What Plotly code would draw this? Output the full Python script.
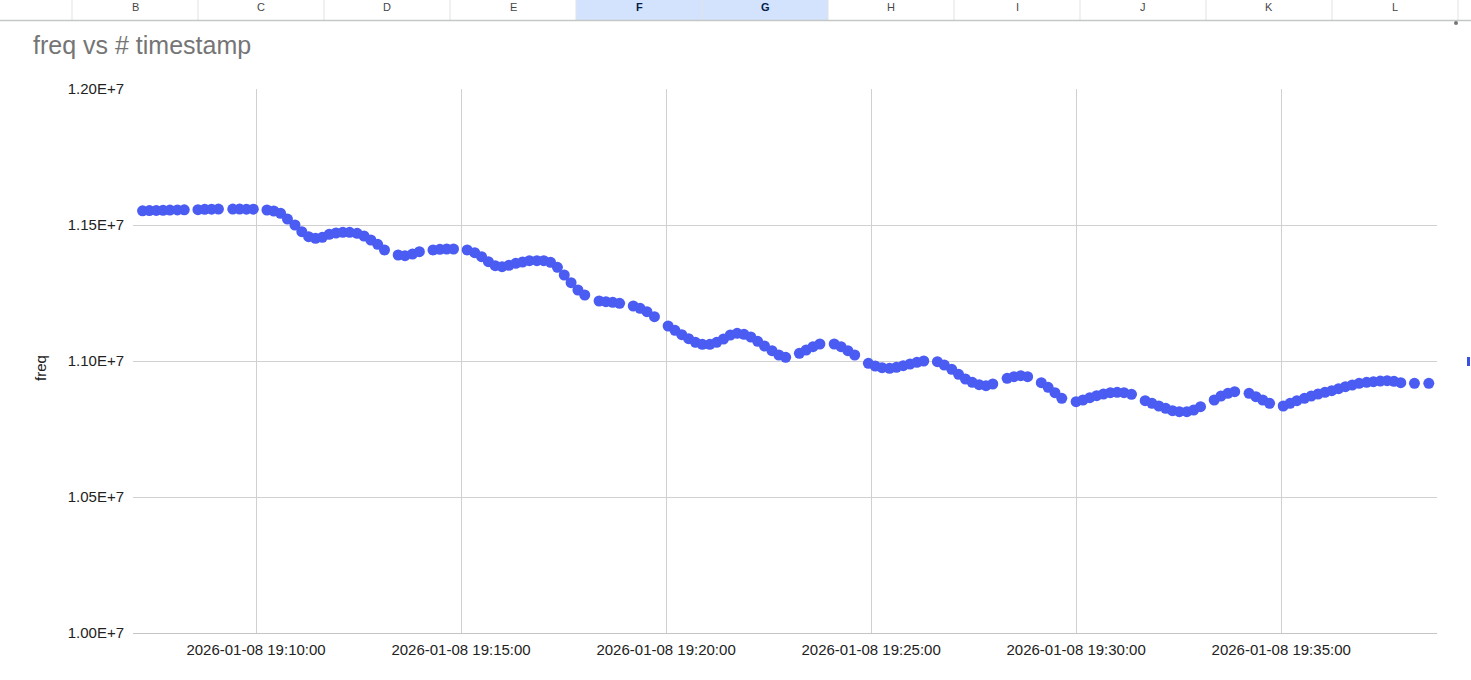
import plotly.graph_objects as go

DATE = "2026-01-08"

# sample times (HH:MM:SS)
times = [
    "19:07:14", "19:07:24", "19:07:34", "19:07:44", "19:07:54", "19:08:05", "19:08:15",
    "19:08:35", "19:08:45", "19:08:55", "19:09:05",
    "19:09:26", "19:09:36", "19:09:46", "19:09:56",
    "19:10:16", "19:10:26", "19:10:36", "19:10:46", "19:10:57", "19:11:07", "19:11:17", "19:11:27", "19:11:37",
    "19:11:47", "19:11:57", "19:12:07", "19:12:17", "19:12:28", "19:12:38", "19:12:48", "19:12:58", "19:13:08",
    "19:13:28", "19:13:38", "19:13:49", "19:13:59",
    "19:14:19", "19:14:29", "19:14:39", "19:14:49",
    "19:15:09", "19:15:20", "19:15:30", "19:15:40", "19:15:50", "19:16:00", "19:16:10", "19:16:20", "19:16:30",
    "19:16:40", "19:16:51", "19:17:01", "19:17:11", "19:17:21", "19:17:31", "19:17:41", "19:17:51", "19:18:01",
    "19:18:22", "19:18:32", "19:18:42", "19:18:52",
    "19:19:12", "19:19:22", "19:19:32", "19:19:43",
    "19:20:03", "19:20:13", "19:20:23", "19:20:33", "19:20:43", "19:20:53", "19:21:04", "19:21:14", "19:21:24",
    "19:21:34", "19:21:44", "19:21:54", "19:22:04", "19:22:14", "19:22:24", "19:22:35", "19:22:45", "19:22:55",
    "19:23:15", "19:23:25", "19:23:35", "19:23:45",
    "19:24:06", "19:24:16", "19:24:26", "19:24:36",
    "19:24:56", "19:25:06", "19:25:16", "19:25:27", "19:25:37", "19:25:47", "19:25:57", "19:26:07", "19:26:17",
    "19:26:37", "19:26:47", "19:26:58", "19:27:08", "19:27:18", "19:27:28", "19:27:38", "19:27:48", "19:27:58",
    "19:28:19", "19:28:29", "19:28:39", "19:28:49",
    "19:29:09", "19:29:19", "19:29:29", "19:29:39",
    "19:30:00", "19:30:10", "19:30:20", "19:30:30", "19:30:40", "19:30:50", "19:31:00", "19:31:10", "19:31:21",
    "19:31:41", "19:31:51", "19:32:01", "19:32:11", "19:32:21", "19:32:31", "19:32:42", "19:32:52", "19:33:02",
    "19:33:22", "19:33:32", "19:33:42", "19:33:52",
    "19:34:13", "19:34:23", "19:34:33", "19:34:43",
    "19:35:03", "19:35:13", "19:35:23", "19:35:34", "19:35:44", "19:35:54", "19:36:04", "19:36:14", "19:36:24",
    "19:36:34", "19:36:44", "19:36:54", "19:37:05", "19:37:15", "19:37:25", "19:37:35", "19:37:45", "19:37:55",
    "19:38:15",
    "19:38:36",
]

freq = [
    11552000, 11553000, 11553500, 11554000, 11555000, 11555500, 11556000,
    11556500, 11557500, 11558000, 11558500,
    11558500, 11558500, 11558000, 11558000,
    11555200, 11551500, 11543000, 11522000, 11500000, 11475400, 11457000, 11451100, 11454800,
    11465800, 11470600, 11473200, 11473200, 11469500, 11459600, 11444900, 11429000, 11408100,
    11389700, 11387100, 11393400, 11401900,
    11408100, 11410600, 11411800, 11411800,
    11408100, 11398200, 11383500, 11365100, 11350400, 11346700, 11351800, 11359100, 11364000,
    11368800, 11368800, 11368800, 11362900, 11344500, 11316200, 11287900, 11261000, 11242600,
    11220600, 11218000, 11215700, 11212100,
    11202200, 11193700, 11181400, 11162800,
    11128700, 11112900, 11096700, 11082000, 11068700, 11061400, 11061400, 11068700, 11080900,
    11095600, 11101800, 11098200, 11088200, 11072400, 11055100, 11037900, 11022100, 11013600,
    11028300, 11040400, 11052600, 11062500,
    11062500, 11052600, 11037900, 11022100,
    10991500, 10981600, 10975400, 10973100, 10976800, 10982700, 10989000, 10995200, 11000000,
    10997400, 10985300, 10969500, 10951100, 10933800, 10921700, 10912800, 10909200, 10915400,
    10936400, 10942300, 10946000, 10942300,
    10920200, 10903300, 10883400, 10862900,
    10850300, 10856600, 10865100, 10872400, 10878700, 10883400, 10884900, 10883400, 10877500,
    10854000, 10844500, 10834600, 10826100, 10817300, 10813600, 10813600, 10819900, 10832000,
    10856600, 10871300, 10881100, 10887100,
    10881100, 10868800, 10856600, 10844500,
    10834600, 10844500, 10854000, 10862800, 10871300, 10878700, 10884900, 10890800, 10898200,
    10905500, 10911800, 10917800, 10921500, 10923800, 10926400, 10927500, 10925300, 10920200,
    10917800,
    10917800,
]

y_ticks = [10000000, 10500000, 11000000, 11500000, 12000000]
y_tick_labels = ["1.00E+7", "1.05E+7", "1.10E+7", "1.15E+7", "1.20E+7"]

columns = ["B", "C", "D", "E", "F", "G", "H", "I", "J", "K", "L"]
selected_columns = ["F", "G"]

title_text = "freq vs # timestamp"
y_title = "freq"

# ---------------- layout geometry ----------------
W, H = 1471, 680
L, R, T, B = 133, 34, 89, 47
PW, PH = W - L - R, H - T - B


def px(xp):
    return (xp - L) / PW


def py(yp):
    return (H - B - yp) / PH


FONT = "Liberation Sans, Arial, sans-serif"
x_vals = [f"{DATE} {t}" for t in times]

fig = go.Figure()
fig.add_trace(go.Scatter(
    x=x_vals, y=freq, mode="markers",
    marker=dict(size=11, color="#4a5cf2", line=dict(width=0)),
    hoverinfo="x+y", showlegend=False,
))

shapes = []
annotations = []

# spreadsheet header row
col_w = 126
first_sep = 72
sel_left = first_sep + col_w * columns.index(selected_columns[0])
sel_right = first_sep + col_w * (columns.index(selected_columns[-1]) + 1)
shapes.append(dict(type="rect", xref="paper", yref="paper",
                   x0=px(sel_left), x1=px(sel_right), y0=py(20), y1=py(0),
                   fillcolor="#d3e3fd", line=dict(width=0), layer="below"))
for i in range(len(columns) + 1):
    xs = first_sep + col_w * i
    shapes.append(dict(type="line", xref="paper", yref="paper",
                       x0=px(xs), x1=px(xs), y0=py(20), y1=py(0),
                       line=dict(color="#e1e3e1", width=1)))
shapes.append(dict(type="line", xref="paper", yref="paper",
                   x0=px(0), x1=px(W), y0=py(20.5), y1=py(20.5),
                   line=dict(color="#c4c7c5", width=1.5)))
for i, c in enumerate(columns):
    sel = c in selected_columns
    annotations.append(dict(
        text=f"<b>{c}</b>" if sel else c, xref="paper", yref="paper",
        x=px(first_sep + col_w * i + col_w / 2), y=py(7.5),
        xanchor="center", yanchor="middle", showarrow=False,
        font=dict(family=FONT, size=11, color="#041e49" if sel else "#444746")))

# small chart handle dot and clipped legend marker
shapes.append(dict(type="circle", xref="paper", yref="paper",
                   x0=px(1454), x1=px(1458), y0=py(25), y1=py(21),
                   fillcolor="#777777", line=dict(width=0)))
shapes.append(dict(type="rect", xref="paper", yref="paper",
                   x0=px(1467), x1=px(1470), y0=py(366), y1=py(357),
                   fillcolor="#3b4fe0", line=dict(width=0)))

# title and axis title
annotations.append(dict(text=title_text, xref="paper", yref="paper",
                        x=px(31), y=py(45), xanchor="left", yanchor="middle",
                        showarrow=False,
                        font=dict(family=FONT, size=25, color="#757575")))
annotations.append(dict(text=y_title, xref="paper", yref="paper",
                        x=px(40), y=py(368), xanchor="center", yanchor="middle",
                        textangle=-90, showarrow=False,
                        font=dict(family=FONT, size=15, color="#222222")))

fig.update_layout(
    width=W, height=H,
    margin=dict(l=L, r=R, t=T, b=B, pad=0),
    paper_bgcolor="white", plot_bgcolor="white",
    font=dict(family=FONT, size=15, color="#222222"),
    shapes=shapes, annotations=annotations,
    showlegend=False,
)
fig.update_xaxes(
    type="date",
    range=[f"{DATE} 19:07:00", f"{DATE} 19:38:48"],
    tick0=f"{DATE} 19:10:00", dtick=300000,
    tickformat="%Y-%m-%d %H:%M:%S",
    showgrid=True, gridcolor="#d0d0d0", gridwidth=1,
    showline=True, linecolor="#c4c4c4", linewidth=1,
    zeroline=False, ticks="", ticklabelstandoff=3,
    tickfont=dict(family=FONT, size=15, color="#222222"),
)
fig.update_yaxes(
    range=[10000000, 12000000],
    tickvals=y_ticks, ticktext=y_tick_labels,
    showgrid=True, gridcolor="#d0d0d0", gridwidth=1,
    zeroline=False, showline=False, ticks="", ticklabelstandoff=8,
    tickfont=dict(family=FONT, size=15, color="#222222"),
)

fig.write_html("out.html", config={"displayModeBar": False},
               post_script="document.body.style.margin='0';document.body.style.padding='0';")
